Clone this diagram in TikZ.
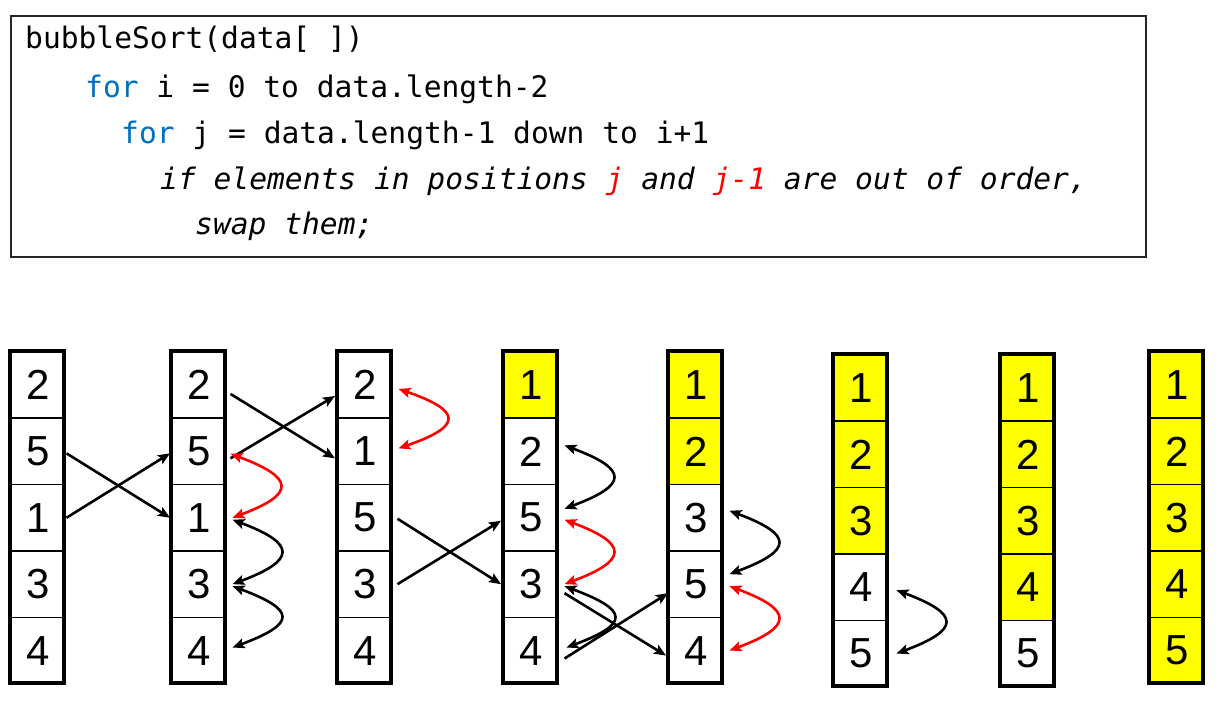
\documentclass[tikz,border=0pt]{standalone}
\usepackage{fontspec}
\setmainfont{Liberation Sans}
\newfontfamily\codefont{DejaVu Sans Mono}
\usetikzlibrary{arrows.meta,calc}
\definecolor{kwblue}{RGB}{0,112,192}
\definecolor{hl}{RGB}{255,255,0}
\definecolor{swapred}{RGB}{255,0,0}
\tikzset{
  cell/.style={draw=black, line width=1.5pt, minimum width=54pt, minimum height=66.4pt,
    inner sep=0pt, font=\fontsize{42}{42}\selectfont},
  colframe/.style={draw=black, line width=4pt},
  codeline/.style={anchor=base west, inner sep=0pt, font=\codefont\fontsize{29.6}{32}\selectfont},
  tip/.tip={Stealth[length=12pt,width=10pt,inset=2.5pt]},
  sw/.style={line width=2.6pt, -tip},
  cv/.style={line width=2.6pt, tip-tip}
}
\newcommand{\drawcol}[5]{%
  \foreach \v [count=\r from 0] in {#5} {%
    \ifnum\r<#4\relax \def\fc{hl}\else\def\fc{white}\fi
    \node[cell, fill=\fc, anchor=north west] (c#1-\r) at (#2, #3+\r*66.4) {\v};
  }
  \draw[colframe] (#2,#3) rectangle ++(54,332);
}
\begin{document}
\begin{tikzpicture}[x=1pt,y=-1pt]
\useasboundingbox (0,0) rectangle (1216,704);
\fill[white] (0,0) rectangle (1216,704);

% code box
\node[draw=black!85, line width=1.5pt, minimum width=1135pt, minimum height=241pt,
  inner sep=0pt, anchor=north west] (codebox) at (10,15) {};
\node[codeline] (l1) at (25,48) {bubbleSort(data[ ])};
\node[codeline] (l2) at (85,97) {\textcolor{kwblue}{for} i = 0 to data.length-2};
\node[codeline] (l3) at (121,143) {\textcolor{kwblue}{for} j = data.length-1 down to i+1};
\node[codeline] (l4) at (160,189) {\itshape if elements in positions \textcolor{swapred}{j} and \textcolor{swapred}{j-1} are out of order,};
\node[codeline] (l5) at (195,234) {\itshape swap them;};

% columns
\drawcol{1}{10}{351}{0}{2,5,1,3,4}
\drawcol{2}{171}{351}{0}{2,5,1,3,4}
\drawcol{3}{337}{351}{0}{2,1,5,3,4}
\drawcol{4}{503}{351}{1}{1,2,5,3,4}
\drawcol{5}{668}{351}{2}{1,2,3,5,4}
\drawcol{6}{833}{354}{3}{1,2,3,4,5}
\drawcol{7}{1000}{354}{4}{1,2,3,4,5}
\drawcol{8}{1149}{351}{5}{1,2,3,4,5}

% straight swaps
\draw[sw] ([xshift=1pt,yshift=-2pt]c1-1.east) -- ([xshift=-1pt]c2-2.west);
\draw[sw] ([xshift=1pt]c1-2.east) -- ([xshift=-1pt,yshift=-2pt]c2-1.west);
\draw[sw] ([xshift=4pt,yshift=-9pt]c2-0.east) -- ([xshift=-2pt,yshift=-7pt]c3-1.west);
\draw[sw] ([xshift=4pt,yshift=-7pt]c2-1.east) -- ([xshift=-2pt,yshift=-11pt]c3-0.west);
\draw[sw] ([xshift=5pt,yshift=-1pt]c3-2.east) -- ([xshift=-2pt]c4-3.west);
\draw[sw] ([xshift=5pt]c3-3.east) -- ([xshift=-2pt,yshift=-3pt]c4-2.west);
\draw[sw] ([xshift=6pt,yshift=-9pt]c4-3.east) -- ([xshift=-2pt,yshift=-5pt]c5-4.west);
\draw[sw] ([xshift=6pt,yshift=-8pt]c4-4.east) -- ([xshift=0pt,yshift=-9pt]c5-3.west);

% curved comparisons
\draw[cv,swapred] ([xshift=4pt,yshift=-2.4pt]c2-1.east) .. controls +(64,24) and +(64,-24) .. ([xshift=6pt]c2-2.east);
\draw[cv] ([xshift=6pt,yshift=-2pt]c2-2.east) .. controls +(64,24) and +(64,-24) .. ([xshift=6pt]c2-3.east);
\draw[cv] ([xshift=6pt,yshift=-2pt]c2-3.east) .. controls +(64,24) and +(64,-24) .. ([xshift=6pt,yshift=3pt]c2-4.east);
\draw[cv,swapred] ([xshift=6pt,yshift=-4pt]c3-0.east) .. controls +(64,22) and +(64,-22) .. ([xshift=6pt,yshift=3pt]c3-1.east);
\draw[cv] ([xshift=6pt,yshift=6pt]c4-1.east) .. controls +(64,24) and +(64,-24) .. ([xshift=6pt,yshift=9pt]c4-2.east);
\draw[cv,swapred] ([xshift=6pt,yshift=-2pt]c4-2.east) .. controls +(64,24) and +(64,-24) .. ([xshift=6pt]c4-3.east);
\draw[cv] ([xshift=6pt,yshift=-2pt]c4-3.east) .. controls +(64,24) and +(64,-24) .. ([xshift=8pt,yshift=3pt]c4-4.east);
\draw[cv] ([xshift=6pt,yshift=7pt]c5-2.east) .. controls +(64,24) and +(64,-24) .. ([xshift=6pt,yshift=10pt]c5-3.east);
\draw[cv,swapred] ([xshift=6pt,yshift=-2pt]c5-3.east) .. controls +(64,24) and +(64,-24) .. ([xshift=6pt]c5-4.east);
\draw[cv] ([xshift=8pt,yshift=-3pt]c6-3.east) .. controls +(64,24) and +(64,-24) .. ([xshift=8pt]c6-4.east);
\end{tikzpicture}
\end{document}
